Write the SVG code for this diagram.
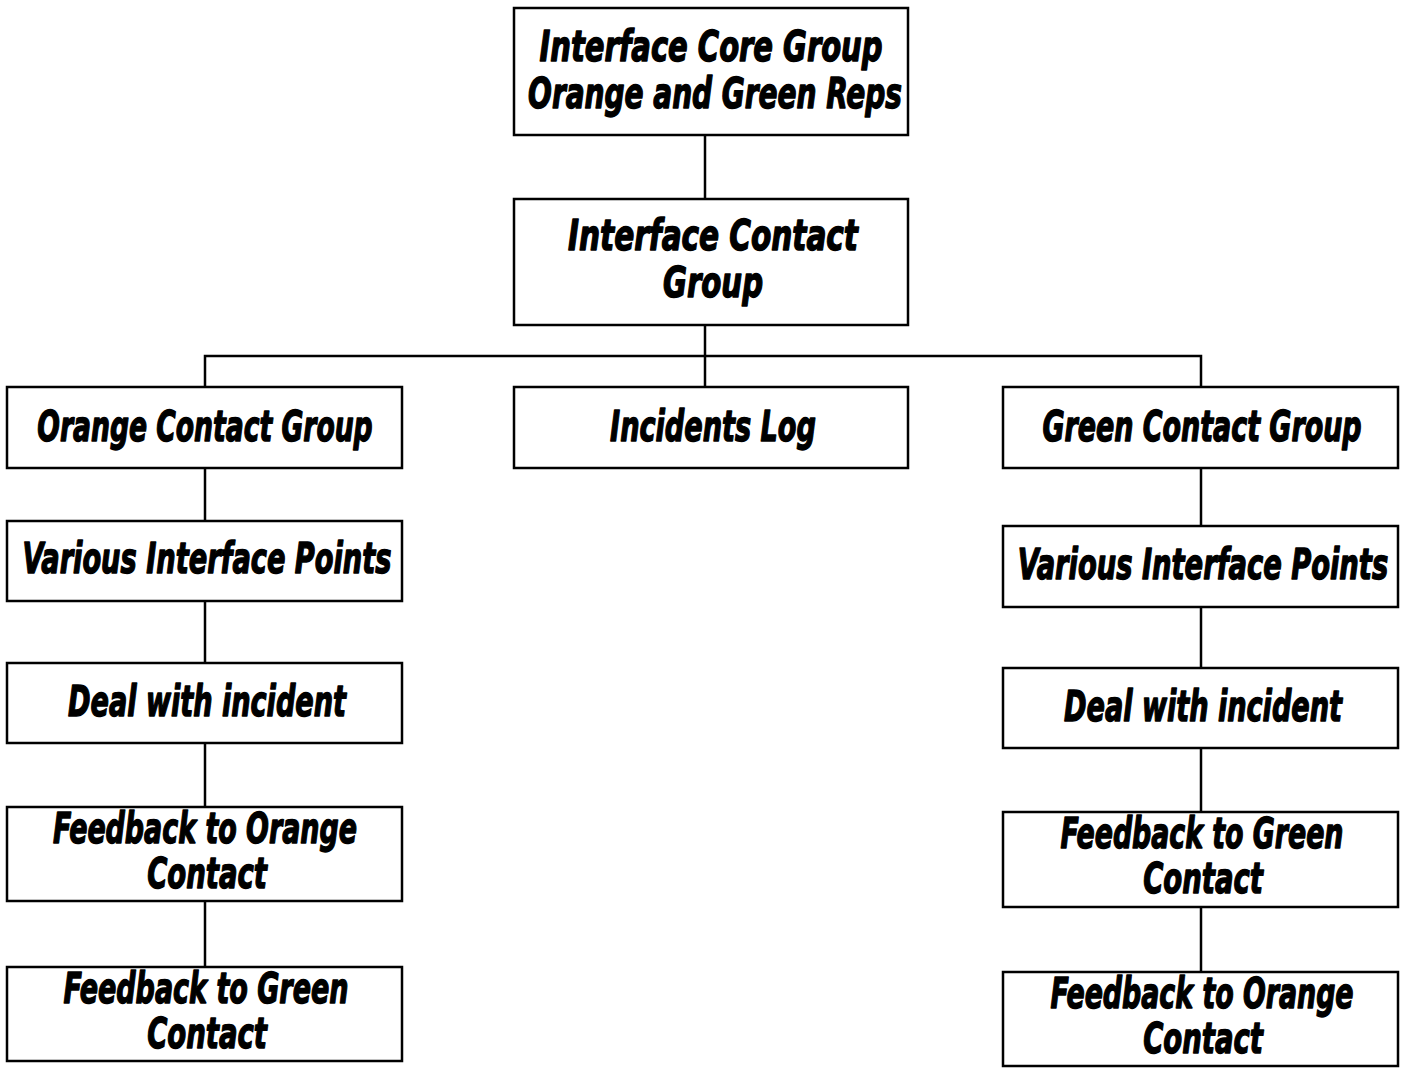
<svg xmlns="http://www.w3.org/2000/svg" width="1406" height="1068" viewBox="0 0 1406 1068">
<style>
.box{fill:#fff;stroke:#000;stroke-width:2.5}
.ln{stroke:#000;stroke-width:2.5;fill:none}
text{font-family:"DejaVu Sans Condensed","Liberation Sans",sans-serif;font-weight:bold;font-style:italic;font-size:42px;fill:#000;stroke:#000;stroke-width:1.4;stroke-linejoin:round;text-anchor:middle}
</style>
<rect width="1406" height="1068" fill="#fff"/>
<g id="connectors">
<line class="ln" x1="705" y1="135" x2="705" y2="199"/>
<line class="ln" x1="705" y1="325" x2="705" y2="387"/>
<polyline class="ln" points="205,387 205,356 1201,356 1201,387"/>
<line class="ln" x1="205" y1="468" x2="205" y2="521"/>
<line class="ln" x1="205" y1="601" x2="205" y2="663"/>
<line class="ln" x1="205" y1="743" x2="205" y2="807"/>
<line class="ln" x1="205" y1="901" x2="205" y2="967"/>
<line class="ln" x1="1201" y1="468" x2="1201" y2="526"/>
<line class="ln" x1="1201" y1="607" x2="1201" y2="668"/>
<line class="ln" x1="1201" y1="748" x2="1201" y2="812"/>
<line class="ln" x1="1201" y1="907" x2="1201" y2="972"/>
</g>
<g id="core"><rect class="box" x="514" y="8" width="394" height="127"/>
<text transform="translate(711,61) scale(0.7,1)" textLength="490" lengthAdjust="spacingAndGlyphs">Interface Core Group</text>
<text transform="translate(715,108) scale(0.7,1)" textLength="534" lengthAdjust="spacingAndGlyphs">Orange and Green Reps</text></g>
<g id="contact"><rect class="box" x="514" y="199" width="394" height="126"/>
<text transform="translate(713,250) scale(0.7,1)" textLength="414" lengthAdjust="spacingAndGlyphs">Interface Contact</text>
<text transform="translate(713,297) scale(0.7,1)" textLength="143" lengthAdjust="spacingAndGlyphs">Group</text></g>
<g id="orange"><rect class="box" x="7" y="387" width="395" height="81"/>
<text transform="translate(205,441) scale(0.7,1)" textLength="479" lengthAdjust="spacingAndGlyphs">Orange Contact Group</text></g>
<g id="incidents"><rect class="box" x="514" y="387" width="394" height="81"/>
<text transform="translate(713,441) scale(0.7,1)" textLength="294" lengthAdjust="spacingAndGlyphs">Incidents Log</text></g>
<g id="green"><rect class="box" x="1003" y="387" width="395" height="81"/>
<text transform="translate(1202,441) scale(0.7,1)" textLength="456" lengthAdjust="spacingAndGlyphs">Green Contact Group</text></g>
<g id="o-various"><rect class="box" x="7" y="521" width="395" height="80"/>
<text transform="translate(207,573) scale(0.7,1)" textLength="527" lengthAdjust="spacingAndGlyphs">Various Interface Points</text></g>
<g id="o-deal"><rect class="box" x="7" y="663" width="395" height="80"/>
<text transform="translate(207,716) scale(0.7,1)" textLength="397" lengthAdjust="spacingAndGlyphs">Deal with incident</text></g>
<g id="o-fb1"><rect class="box" x="7" y="807" width="395" height="94"/>
<text transform="translate(205,843) scale(0.7,1)" textLength="434" lengthAdjust="spacingAndGlyphs">Feedback to Orange</text>
<text transform="translate(207,888) scale(0.7,1)" textLength="171" lengthAdjust="spacingAndGlyphs">Contact</text></g>
<g id="o-fb2"><rect class="box" x="7" y="967" width="395" height="94"/>
<text transform="translate(206,1003) scale(0.7,1)" textLength="407" lengthAdjust="spacingAndGlyphs">Feedback to Green</text>
<text transform="translate(207,1048) scale(0.7,1)" textLength="171" lengthAdjust="spacingAndGlyphs">Contact</text></g>
<g id="g-various"><rect class="box" x="1003" y="526" width="395" height="81"/>
<text transform="translate(1203,579) scale(0.7,1)" textLength="529" lengthAdjust="spacingAndGlyphs">Various Interface Points</text></g>
<g id="g-deal"><rect class="box" x="1003" y="668" width="395" height="80"/>
<text transform="translate(1203,721) scale(0.7,1)" textLength="397" lengthAdjust="spacingAndGlyphs">Deal with incident</text></g>
<g id="g-fb1"><rect class="box" x="1003" y="812" width="395" height="95"/>
<text transform="translate(1202,848) scale(0.7,1)" textLength="404" lengthAdjust="spacingAndGlyphs">Feedback to Green</text>
<text transform="translate(1203,893) scale(0.7,1)" textLength="171" lengthAdjust="spacingAndGlyphs">Contact</text></g>
<g id="g-fb2"><rect class="box" x="1003" y="972" width="395" height="94"/>
<text transform="translate(1202,1008) scale(0.7,1)" textLength="433" lengthAdjust="spacingAndGlyphs">Feedback to Orange</text>
<text transform="translate(1203,1053) scale(0.7,1)" textLength="171" lengthAdjust="spacingAndGlyphs">Contact</text></g>
</svg>
